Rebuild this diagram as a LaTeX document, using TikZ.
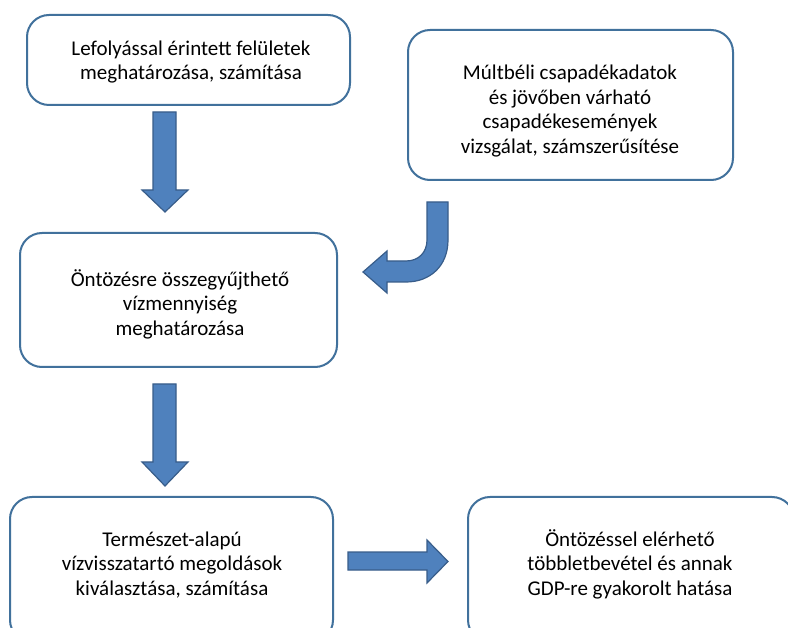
\documentclass[tikz,border=0pt]{standalone}
\usepackage{fontspec}
\setmainfont{Carlito}
\definecolor{boxline}{HTML}{41719C}
\definecolor{arrfill}{HTML}{4F81BD}
\definecolor{arrline}{HTML}{385D8A}
\begin{document}
\begin{tikzpicture}[x=1pt,y=-1pt,
  box/.style={draw=boxline,line width=2pt,rounded corners=22pt,fill=white,inner sep=0pt},
  txt/.style={align=center,font=\fontsize{21}{24.5}\selectfont,text=black},
  blockarrow/.style={fill=arrfill,draw=arrline,line width=1.2pt,line join=miter}]
\useasboundingbox (0,0) rectangle (788,628);
\fill[white] (0,0) rectangle (788,628);
% boxes
\node[box,minimum width=323pt,minimum height=90pt] (b1) at (188.5,60) {};
\node[box,minimum width=325pt,minimum height=150pt] (b2) at (570.5,105) {};
\node[box,minimum width=317pt,minimum height=134pt] (b3) at (178.5,300) {};
\node[box,minimum width=323pt,minimum height=145pt] (b4) at (171.5,569.5) {};
\node[box,minimum width=326pt,minimum height=145pt] (b5) at (631,569.5) {};
% texts
\node[txt] (t1) at (191,62) {Lefolyással érintett felületek\\meghatározása, számítása};
\node[txt] (t2) at (570,111) {Múltbéli csapadékadatok\\és jövőben várható\\csapadékesemények\\vizsgálat, számszerűsítése};
\node[txt] (t3) at (180,304) {Öntözésre összegyűjthető\\vízmennyiség\\meghatározása};
\node[txt] (t4) at (172,565) {Természet-alapú\\vízvisszatartó megoldások\\kiválasztása, számítása};
\node[txt] (t5) at (630,564) {Öntözéssel elérhető\\többletbevétel és annak\\GDP-re gyakorolt hatása};
% down arrow 1
\draw[blockarrow] (153,112) -- (176,112) -- (176,190) -- (188,190) -- (165,212) -- (142,190) -- (153,190) -- cycle;
% down arrow 2
\draw[blockarrow] (153,384) -- (176,384) -- (176,462) -- (188,462) -- (165,486) -- (142,462) -- (153,462) -- cycle;
% right arrow
\draw[blockarrow] (348,552) -- (427,552) -- (427,540) -- (448,561.5) -- (427,583) -- (427,570) -- (348,570) -- cycle;
% curved arrow
\draw[blockarrow] (448,202) -- (448,240) .. controls (448,266) and (430,282) .. (406,282) -- (387,282) -- (387,293) -- (363,272) -- (387,251) -- (387,261) -- (406,261) .. controls (419,261) and (427,252) .. (427,240) -- (427,202) -- cycle;
\end{tikzpicture}
\end{document}
